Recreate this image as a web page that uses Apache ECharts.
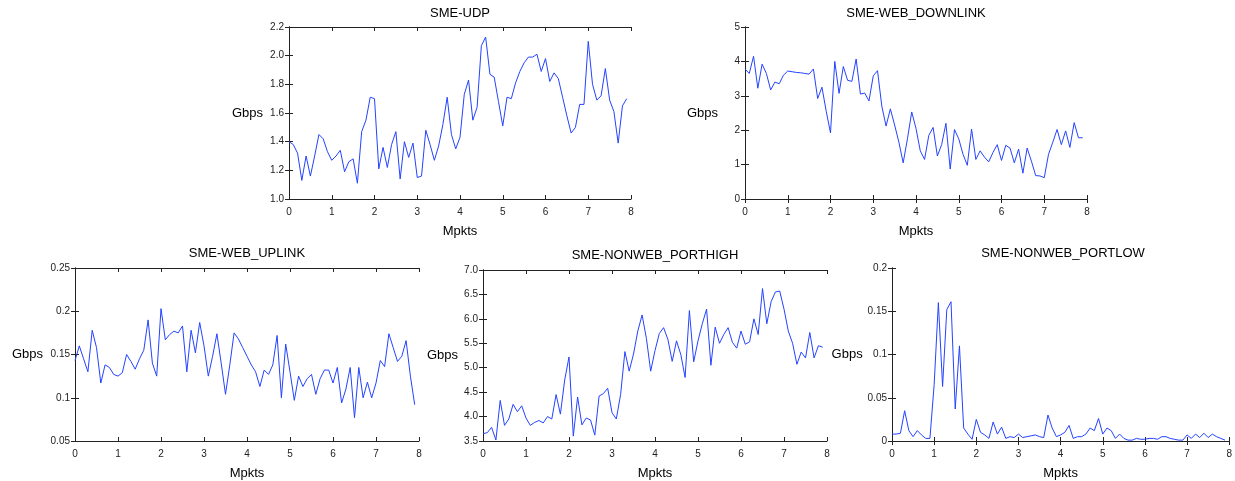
<!DOCTYPE html>
<html lang="en">
<head>
    <meta charset="UTF-8">
    <title>SME throughput</title>
    <script src="https://cdn.jsdelivr.net/npm/echarts@6/dist/echarts.min.js"></script>
    <style>
        html, body { margin: 0; padding: 0; background: #fff; }
        #charts { width: 1235px; height: 481px; }
    </style>
</head>
<body>
<div id="charts"></div>

<script>
    // sample positions on the Mpkts axis (0.0 .. 7.9)
    var mpkts = [];
    for (var i = 0; i < 80; i++) mpkts.push(+(i / 10).toFixed(1));

    var titles = ['SME-UDP', 'SME-WEB_DOWNLINK', 'SME-WEB_UPLINK', 'SME-NONWEB_PORTHIGH', 'SME-NONWEB_PORTLOW'];

    var udp = [1.40,1.38,1.32,1.13,1.30,1.16,1.30,1.45,1.42,1.33,
               1.27,1.30,1.34,1.19,1.26,1.28,1.11,1.47,1.55,1.71,
               1.70,1.21,1.36,1.22,1.38,1.47,1.14,1.40,1.29,1.39,
               1.15,1.16,1.48,1.38,1.27,1.37,1.52,1.71,1.45,1.35,
               1.43,1.73,1.83,1.55,1.64,2.07,2.13,1.87,1.85,1.68,
               1.51,1.71,1.70,1.81,1.89,1.95,1.99,1.99,2.01,1.89,
               1.98,1.82,1.88,1.84,1.71,1.58,1.46,1.50,1.66,1.66,
               2.10,1.80,1.69,1.72,1.91,1.69,1.61,1.39,1.65,1.70];

    var webDownlink = [3.78,3.65,4.15,3.22,3.92,3.65,3.17,3.40,3.35,3.60,
                       3.72,3.70,3.68,3.67,3.65,3.63,3.78,2.92,3.25,2.55,
                       1.92,4.00,3.07,3.85,3.45,3.42,4.07,3.05,3.08,2.85,
                       3.58,3.73,2.70,2.12,2.62,2.15,1.65,1.05,1.75,2.53,
                       2.05,1.40,1.15,1.85,2.08,1.25,1.58,2.20,0.87,2.02,
                       1.75,1.30,0.98,2.03,1.15,1.40,1.22,1.08,1.35,1.58,
                       1.12,1.56,1.48,1.05,1.45,0.75,1.48,1.10,0.68,0.67,
                       0.62,1.30,1.65,2.02,1.58,1.98,1.50,2.22,1.78,1.78];

    var webUplink = [0.143,0.160,0.145,0.130,0.178,0.158,0.117,0.138,0.135,0.127,
                     0.125,0.129,0.150,0.142,0.133,0.145,0.155,0.190,0.140,0.125,
                     0.203,0.167,0.173,0.177,0.175,0.183,0.130,0.178,0.152,0.187,
                     0.160,0.125,0.148,0.174,0.140,0.104,0.138,0.175,0.168,0.158,
                     0.148,0.138,0.130,0.113,0.132,0.127,0.138,0.172,0.100,0.162,
                     0.130,0.097,0.125,0.113,0.122,0.127,0.104,0.122,0.132,0.132,
                     0.117,0.135,0.094,0.110,0.135,0.077,0.135,0.100,0.118,0.100,
                     0.117,0.143,0.136,0.174,0.158,0.142,0.148,0.166,0.125,0.092];

    var portHigh = [3.65,3.67,3.78,3.52,4.33,3.82,3.95,4.25,4.10,4.22,
                    3.97,3.82,3.88,3.92,3.87,4.00,3.95,4.45,4.05,4.75,
                    5.22,3.60,4.40,3.83,3.97,3.93,3.62,4.42,4.47,4.58,
                    4.08,3.95,4.45,5.33,4.93,5.28,5.75,6.08,5.60,4.93,
                    5.35,5.70,5.82,5.58,5.13,5.55,5.27,4.80,6.17,5.12,
                    5.55,5.90,6.20,5.05,5.83,5.50,5.68,5.82,5.52,5.40,
                    5.75,5.48,5.53,6.00,5.68,6.62,5.90,6.35,6.55,6.57,
                    6.20,5.75,5.50,5.07,5.32,5.20,5.72,5.20,5.45,5.42];

    var portLow = [0.008,0.008,0.009,0.035,0.012,0.005,0.012,0.007,0.003,0.003,
                   0.065,0.160,0.063,0.152,0.161,0.037,0.110,0.015,0.008,0.002,
                   0.025,0.010,0.007,0.003,0.022,0.008,0.016,0.003,0.005,0.004,
                   0.008,0.004,0.005,0.006,0.007,0.005,0.004,0.030,0.015,0.005,
                   0.007,0.010,0.018,0.003,0.005,0.005,0.008,0.015,0.012,0.026,
                   0.008,0.015,0.012,0.003,0.008,0.003,0.001,0.001,0.003,0.002,
                   0.002,0.003,0.003,0.002,0.005,0.005,0.003,0.002,0.001,0.001,
                   0.007,0.003,0.008,0.004,0.009,0.004,0.008,0.005,0.003,0.001];

    var yMin = [1.0, 0, 0.05, 3.5, 0];
    var yMax = [2.2, 5, 0.25, 7.0, 0.2];
    var yStep = [0.2, 1, 0.05, 0.5, 0.05];
    var yDigits = [1, 0, -1, 1, -1]; // -1 = shortest form

    var values = [udp, webDownlink, webUplink, portHigh, portLow];

    // plot boxes: left, top, width, height
    var boxes = [
        [289, 27, 342, 172],
        [745, 27, 342, 172],
        [75, 268, 344, 174],
        [483, 270, 344, 172],
        [892, 268, 342, 174]
    ];
    var gbpsGap = [26, 27, 32, 25, 27];
    var titleTop = [7, 7, 247, 249, 247];

    var font = 'Liberation Sans, Arial, sans-serif';
    var lineColor = '#2443ff';

    var option = {
        animation: false,
        backgroundColor: '#fff',
        textStyle: { fontFamily: font },
        title: [],
        grid: [],
        xAxis: [],
        yAxis: [],
        series: []
    };

    for (var k = 0; k < 5; k++) {
        var b = boxes[k];
        option.grid.push({ left: b[0], top: b[1], width: b[2], height: b[3], containLabel: false });
        option.title.push({
            text: titles[k],
            left: b[0] + b[2] / 2,
            top: titleTop[k],
            textAlign: 'center',
            padding: 0,
            textStyle: { fontSize: 13, fontWeight: 'normal', color: '#000', fontFamily: font }
        });
        var axLine = { show: true, lineStyle: { color: '#222', width: 1 } };
        // bottom axis with labels
        option.xAxis.push({
            type: 'value', gridIndex: k, min: 0, max: 8, interval: 1,
            name: 'Mpkts', nameLocation: 'middle', nameGap: 26,
            nameTextStyle: { fontSize: 13, color: '#000', fontFamily: font },
            axisLine: axLine,
            axisTick: { show: true, inside: true, length: 4, lineStyle: { color: '#222' } },
            axisLabel: { fontSize: 10, color: '#222', margin: 8, fontFamily: font },
            splitLine: { show: false }
        });
        // top mirror
        option.xAxis.push({
            type: 'value', gridIndex: k, min: 0, max: 8, interval: 1, position: 'top',
            axisLine: axLine,
            axisTick: { show: true, inside: true, length: 4, lineStyle: { color: '#222' } },
            axisLabel: { show: false },
            splitLine: { show: false }
        });
        (function (d) {
            option.yAxis.push({
                type: 'value', gridIndex: k, min: yMin[k], max: yMax[k], interval: yStep[k],
                name: 'Gbps', nameLocation: 'middle', nameGap: gbpsGap[k], nameRotate: 0,
                nameTextStyle: { fontSize: 13, color: '#000', fontFamily: font, align: 'right' },
                axisLine: axLine,
                axisTick: { show: true, inside: true, length: 4, lineStyle: { color: '#222' } },
                axisLabel: {
                    fontSize: 10, color: '#222', margin: 5, fontFamily: font,
                    formatter: function (v) { return d < 0 ? String(+v.toFixed(3)) : v.toFixed(d); }
                },
                splitLine: { show: false }
            });
        })(yDigits[k]);
        option.yAxis.push({
            type: 'value', gridIndex: k, min: yMin[k], max: yMax[k], interval: yStep[k], position: 'right',
            axisLine: axLine,
            axisTick: { show: true, inside: true, length: 4, lineStyle: { color: '#222' } },
            axisLabel: { show: false },
            splitLine: { show: false }
        });
        var pts = [];
        for (var j = 0; j < mpkts.length; j++) pts.push([mpkts[j], values[k][j]]);
        option.series.push({
            type: 'line', xAxisIndex: 2 * k, yAxisIndex: 2 * k,
            data: pts, showSymbol: false, symbol: 'none',
            lineStyle: { color: lineColor, width: 1 },
            silent: true
        });
    }

    var myChart = echarts.init(document.getElementById('charts'));
    myChart.setOption(option);
</script>
</body>
</html>
